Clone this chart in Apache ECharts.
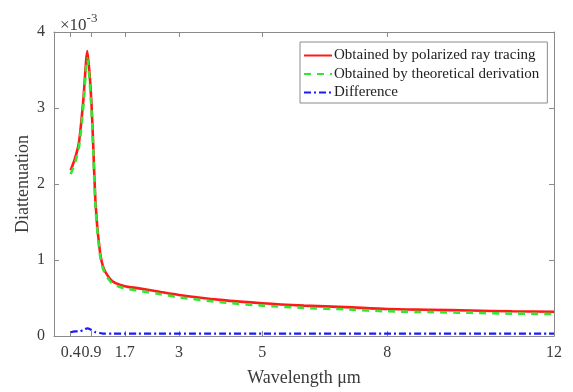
<!DOCTYPE html>
<html>
<head>
<meta charset="utf-8">
<script src="https://cdn.jsdelivr.net/npm/echarts@6/dist/echarts.min.js"></script>
<style>
  html, body { margin: 0; padding: 0; background: #fff; }
  #chart { width: 573px; height: 392px; }
</style>
</head>
<body>
<div id="chart"></div>
<script>
// Wavelength samples (µm)
const wavelengths = [0.4, 0.5, 0.6, 0.7, 0.8, 0.9, 1.0, 1.1, 1.2, 1.4, 1.7, 2.0, 2.5, 3.0, 4.0, 5.0, 6.0, 7.0, 8.0, 9.0, 10.0, 11.0, 12.0];
// Diattenuation in units of 1e-3
const rayTracing  = [2.18, 2.33, 2.55, 3.08, 3.75, 3.05, 1.72, 1.12, 0.88, 0.72, 0.655, 0.63, 0.585, 0.54, 0.475, 0.43, 0.40, 0.38, 0.355, 0.345, 0.335, 0.325, 0.32];
const theoretical = [2.13, 2.27, 2.49, 3.00, 3.65, 2.97, 1.67, 1.08, 0.85, 0.69, 0.625, 0.60, 0.555, 0.51, 0.445, 0.40, 0.37, 0.35, 0.325, 0.315, 0.305, 0.295, 0.29];
const difference  = [0.05, 0.06, 0.06, 0.08, 0.10, 0.08, 0.05, 0.04, 0.03, 0.03, 0.03, 0.03, 0.03, 0.03, 0.03, 0.03, 0.03, 0.03, 0.03, 0.03, 0.03, 0.03, 0.03];
// Tick positions on the wavelength axis
const xTicks = [0.4, 0.9, 1.7, 3, 5, 8, 12];
const seriesNames = ['Obtained by polarized ray tracing', 'Obtained by theoretical derivation', 'Difference'];

const pairs = ys => wavelengths.map((x, i) => [x, ys[i]]);
const serif = '"Liberation Serif", "DejaVu Serif", serif';
const axisGray = '#8a8a8a';
const textGray = '#3a3a3a';

// Shared settings for the box axes (inward ticks, no offset to zero)
const boxLine = { show: true, onZero: false, lineStyle: { color: axisGray, width: 1 } };
const tick = extra => Object.assign({ inside: true, length: 5, lineStyle: { color: axisGray } }, extra || {});

const chart = echarts.init(document.getElementById('chart'));
chart.setOption({
  backgroundColor: '#fff',
  animation: false,
  title: {
    text: '{a|×10}{b|-3}',
    left: 55, top: 5,
    textStyle: {
      fontWeight: 'normal',
      rich: {
        a: { fontFamily: serif, fontSize: 17, fontWeight: 'normal', color: textGray, padding: [7, 0, 0, 0] },
        b: { fontFamily: serif, fontSize: 13, fontWeight: 'normal', color: textGray, padding: [0, 0, 7, 0] }
      }
    }
  },
  grid: { left: 54, right: 19, top: 32, bottom: 56, show: false },
  legend: {
    orient: 'vertical',
    left: 300, top: 42,
    padding: [6, 8, 3, 3],
    itemGap: 3.5,
    itemWidth: 28,
    itemHeight: 12,
    backgroundColor: '#fff',
    borderColor: axisGray,
    borderWidth: 1,
    borderRadius: 0,
    // line-only legend keys
    itemStyle: { opacity: 0 },
    textStyle: { fontFamily: serif, fontSize: 15, lineHeight: 15, color: '#222', padding: [0, 0, 0, -3] },
    data: seriesNames
  },
  xAxis: [{
    type: 'value', min: 0, max: 12,
    name: 'Wavelength μm',
    nameLocation: 'middle', nameGap: 33,
    nameTextStyle: { fontFamily: serif, fontSize: 18, color: textGray },
    axisLine: boxLine,
    axisTick: tick({ customValues: xTicks }),
    axisLabel: { customValues: xTicks, fontFamily: serif, fontSize: 16, color: textGray, margin: 9, hideOverlap: false },
    splitLine: { show: false }
  }, {
    type: 'value', min: 0, max: 12, position: 'top',
    axisLine: boxLine,
    axisTick: tick({ customValues: xTicks }),
    axisLabel: { show: false },
    splitLine: { show: false }
  }],
  yAxis: [{
    type: 'value', min: 0, max: 4, interval: 1,
    name: 'Diattenuation',
    nameLocation: 'middle', nameGap: 22, nameMoveOverlap: false,
    nameTextStyle: { fontFamily: serif, fontSize: 18, color: textGray },
    axisLine: boxLine,
    axisTick: tick(),
    axisLabel: { fontFamily: serif, fontSize: 16, color: textGray, margin: 9 },
    splitLine: { show: false }
  }, {
    type: 'value', min: 0, max: 4, interval: 1, position: 'right',
    axisLine: boxLine,
    axisTick: tick(),
    axisLabel: { show: false },
    splitLine: { show: false }
  }],
  series: [{
    name: seriesNames[0], type: 'line', data: pairs(rayTracing),
    showSymbol: false, symbol: 'none', smooth: 0.25, z: 2,
    lineStyle: { color: '#ff1a1a', width: 2.6, type: 'solid' },
    itemStyle: { color: '#ff1a1a' }
  }, {
    name: seriesNames[1], type: 'line', data: pairs(theoretical),
    showSymbol: false, symbol: 'none', smooth: 0.25, z: 3,
    lineStyle: { color: '#33e633', width: 2.6, type: [7, 6] },
    itemStyle: { color: '#33e633' }
  }, {
    name: seriesNames[2], type: 'line', data: pairs(difference),
    showSymbol: false, symbol: 'none', smooth: 0.25, z: 4,
    lineStyle: { color: '#1a1aff', width: 2.2, type: [7, 3, 2, 3] },
    itemStyle: { color: '#1a1aff' }
  }]
});
</script>
</body>
</html>
